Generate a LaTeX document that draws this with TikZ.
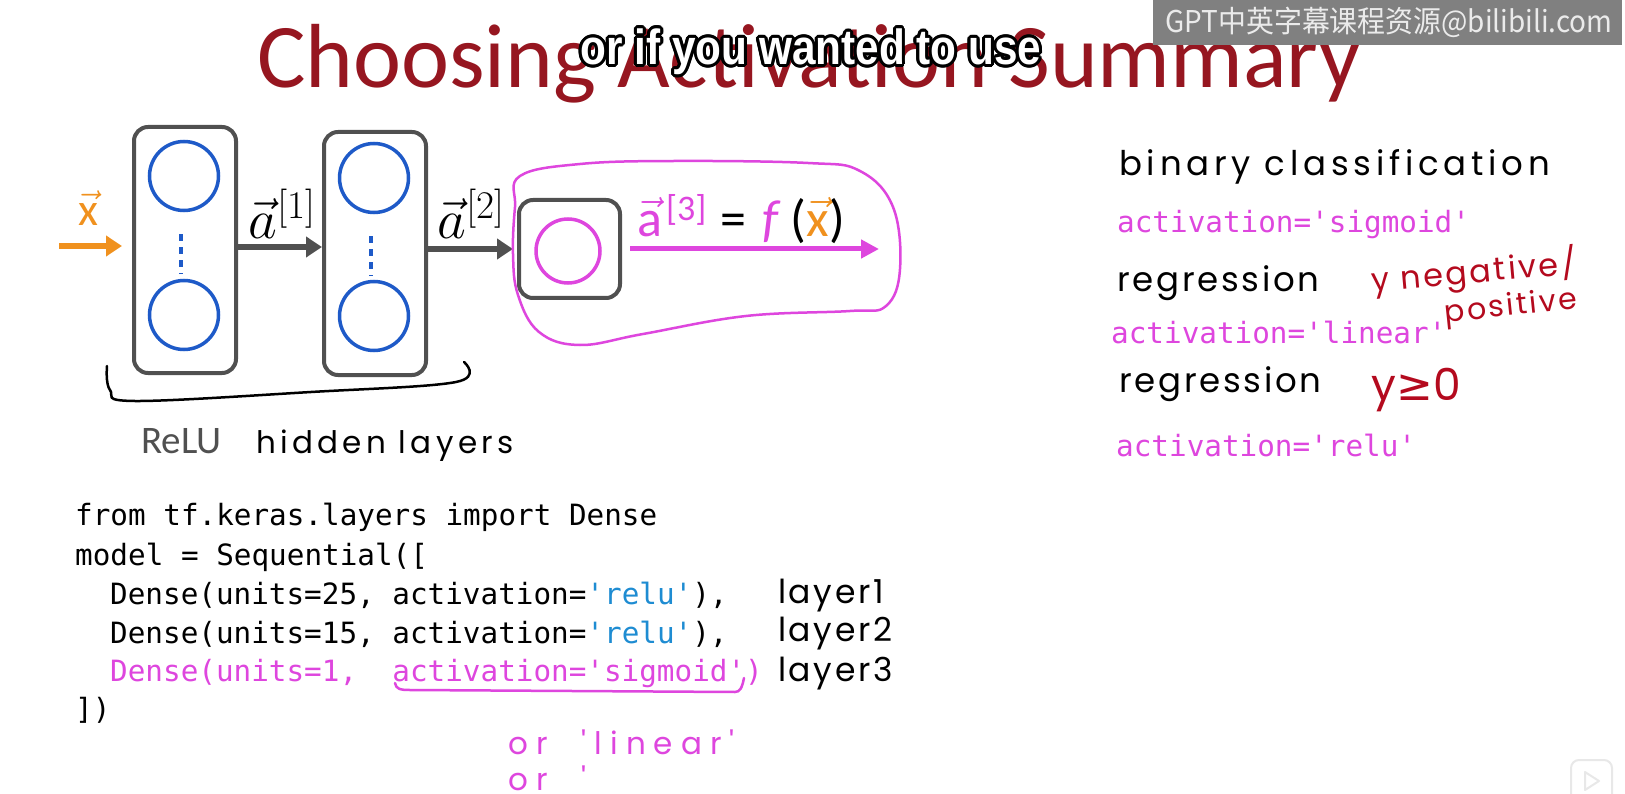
\documentclass[tikz,border=0pt]{standalone}
\usepackage{fix-cm}
\usepackage{fontspec}
\setmainfont{Carlito}
\setmonofont{DejaVu Sans Mono}
\newfontfamily\handfont{Poppins}[LetterSpace=8]
\newfontfamily\subfont{Liberation Sans}
\newfontfamily\cjkfont{Noto Sans CJK SC}
\newfontfamily\symfont{DejaVu Sans}
\usetikzlibrary{arrows.meta}

\definecolor{titlered}{RGB}{150,22,32}
\definecolor{mag}{RGB}{222,70,222}
\definecolor{xorange}{RGB}{240,145,30}
\definecolor{nodeblue}{RGB}{30,90,200}
\definecolor{boxgrey}{RGB}{80,80,80}
\definecolor{relublue}{RGB}{30,140,210}
\definecolor{inkred}{RGB}{180,10,30}
\definecolor{markgrey}{RGB}{128,128,128}

\newcommand\arrowed[1]{\ensuremath{\vec{\mbox{#1}}}}

\begin{document}
\begin{tikzpicture}[x=1pt,y=-1pt,
  layerbox/.style={draw=boxgrey, line width=4pt, rounded corners=14pt, inner sep=0pt},
  neuron/.style={circle, draw=nodeblue, line width=3.5pt, minimum size=69pt, inner sep=0pt},
  flow/.style={line width=6pt, -{Triangle[length=16pt,width=20pt]}},
  code/.style={anchor=base west, inner sep=0pt, font=\fontsize{29.3}{29.3}\ttfamily},
  ink/.style={inner sep=0pt, font=\fontsize{31}{31}\handfont},
  subtitle/.style={inner sep=0pt, font=\fontsize{47}{47}\subfont\bfseries}
]
\useasboundingbox (0,0) rectangle (1625,794);
\fill[white] (0,0) rectangle (1625,794);

% heading
\node[anchor=base west, inner sep=0pt, text=titlered, font=\fontsize{91}{91}\selectfont] (title) at (257,88) {Choosing Activation Summary};

% caption strip over the heading: black outline under white letters
\coordinate (subpos) at (811,52);
\foreach \a in {0,22.5,...,337.5}
  \node[subtitle, text=black, shift={(\a:3)}] at (subpos) {\scalebox{0.9}[1.05]{or if you wanted to use}};
\node[subtitle, text=white] (sub) at (subpos) {\scalebox{0.9}[1.05]{or if you wanted to use}};

% channel mark
\fill[markgrey] (1153,0) rectangle (1622,45);
\node[inner sep=0pt, text=white!92!black, font=\fontsize{30}{30}\cjkfont] (mark) at (1389,22) {\scalebox{0.93}[1]{GPT中英字幕课程资源@bilibili.com}};

% network layers
\node[layerbox, minimum width=102pt, minimum height=246pt] (b1) at (185,250) {};
\node[layerbox, minimum width=102pt, minimum height=243pt] (b2) at (375,253.5) {};
\node[layerbox, minimum width=101pt, minimum height=98pt] (b3) at (569.5,249) {};

\node[neuron] (n11) at (184,176) {};
\node[neuron] (n12) at (184,315) {};
\node[neuron] (n21) at (374,178) {};
\node[neuron] (n22) at (374,316) {};
\node[neuron, draw=mag, minimum size=64pt] (n31) at (568,251) {};

\draw[nodeblue, line width=4pt, dash pattern=on 7pt off 6pt] (n11.south) ++(-3,22) -- ++(0,40);
\draw[nodeblue, line width=4pt, dash pattern=on 7pt off 6pt] (n21.south) ++(-3,22) -- ++(0,40);

% flow of activations
\coordinate (xin) at (59,246);
\draw[flow, xorange, shorten >=10pt] (xin) -- (b1.west |- xin);
\coordinate (r1) at (0,247);
\draw[flow, boxgrey] (b1.east |- r1) -- (b2.west |- r1);
\coordinate (r2) at (0,249);
\draw[flow, boxgrey, shorten >=4pt] (b2.east |- r2) -- (b3.west |- r2);
\coordinate (yout) at (879,249);
\draw[mag, line width=5pt, -{Triangle[length=18pt,width=18pt]}] (b3.east |- yout) ++(8,0) -- (yout);

\node[text=xorange, font=\fontsize{46}{46}\selectfont] (xlab) at (88,208) {\arrowed{x}};
\node[anchor=base, font=\fontsize{56}{56}\selectfont] (a1lab) at (282,239) {$\vec{a}^{[1]}$};
\node[anchor=base, font=\fontsize{56}{56}\selectfont] (a2lab) at (471,239) {$\vec{a}^{[2]}$};
\node[anchor=base, inner sep=0pt, font=\fontsize{52}{52}\selectfont] (a3lab) at (741,237)
  {\textcolor{mag}{\arrowed{a}\hspace{4pt}\raisebox{16pt}{\fontsize{36}{36}\selectfont[3]}}\hspace{14pt}=\hspace{16pt}\textcolor{mag}{\textit{f}}\hspace{10pt}(\textcolor{xorange}{\arrowed{x}})};

% ring drawn round the output unit
\draw[mag, line width=2.5pt] plot[smooth cycle, tension=0.65] coordinates {
  (520,176) (580,164) (674,161) (808,163) (860,171) (893,207) (900,269)
  (886,306) (850,311) (746,316) (643,334) (580,345) (539,332) (518,295)
  (513,254) (515,207)};

% brace under the hidden layers
\draw[line width=2.5pt, line cap=round] plot[smooth, tension=0.6] coordinates {
  (107,366) (110,390) (135,401) (311,392) (456,382) (464,362)};
\node[anchor=base west, inner sep=0pt, text=boxgrey, font=\fontsize{39}{39}\selectfont] (relu) at (141,453) {ReLU};
\node[ink, anchor=base west, font=\fontsize{31}{31}\handfont\addfontfeature{LetterSpace=14}] (hid) at (256,453) {hidden layers};

% model code
\node[code] (c1) at (75,525) {from tf.keras.layers import Dense};
\node[code] (c2) at (75,565) {model = Sequential([};
\node[code] (c3) at (110,604) {Dense(units=25, activation=\textcolor{relublue}{'relu'}),};
\node[code] (c4) at (110,643) {Dense(units=15, activation=\textcolor{relublue}{'relu'}),};
\node[code, text=mag] (c5) at (110,681) {Dense(units=1,\ \ activation='sigmoid')};
\node[code] (c6) at (75,719) {])};

\draw[mag, line width=2.5pt, line cap=round]
  (395,683) .. controls (396,689) and (400,690) .. (410,690)
  -- (735,692) .. controls (740,692) and (742,688) .. (744,678);

\node[ink, anchor=base west, font=\fontsize{33}{33}\handfont] (l1) at (778,603) {layer1};
\node[ink, anchor=base west, font=\fontsize{33}{33}\handfont] (l2) at (778,641) {layer2};
\node[ink, anchor=base west, font=\fontsize{33}{33}\handfont] (l3) at (778,681) {layer3};

\node[ink, anchor=base west, text=mag, font=\fontsize{31}{31}\handfont\addfontfeature{LetterSpace=26}] (alt1) at (508,754) {or\hspace{34pt}'linear'};
\node[ink, anchor=base west, text=mag, font=\fontsize{31}{31}\handfont\addfontfeature{LetterSpace=26}] (alt2) at (508,790) {or\hspace{34pt}'};

% choosing the output activation
\node[ink, anchor=base west, font=\fontsize{34}{34}\handfont\addfontfeature{LetterSpace=14}] (bin) at (1119,176) {binary classification};
\node[code, text=mag] (s1) at (1117,233) {activation='sigmoid'};
\node[ink, anchor=base west, font=\fontsize{34}{34}\handfont] (reg1) at (1117,292) {regression};
\node[ink, text=inkred, rotate=5, font=\fontsize{32}{32}\handfont] (neg) at (1474,272) {y negative/};
\node[ink, text=inkred, rotate=6, font=\fontsize{30}{30}\handfont] (pos) at (1511,308) {positive};
\node[code, text=mag] (s2) at (1111,344) {activation='linear'};
\node[ink, anchor=base west, font=\fontsize{34}{34}\handfont] (reg2) at (1119,392) {regression};
\node[ink, text=inkred, font=\fontsize{44}{44}\handfont] (nonneg) at (1416,390) {y{\symfont ≥}0};
\node[code, text=mag] (s3) at (1116,456) {activation='relu'};

% player badge
\draw[gray!18, line width=2pt, rounded corners=8pt] (1571,760) rectangle (1612,802);
\draw[gray!18, line width=2pt, line join=round] (1585,772) -- (1599,781) -- (1585,790) -- cycle;
\end{tikzpicture}
\end{document}
